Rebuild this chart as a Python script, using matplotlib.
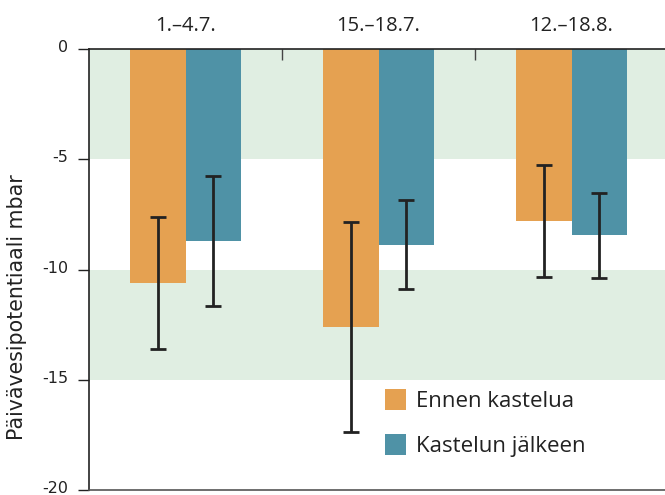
import matplotlib
matplotlib.use("Agg")
import matplotlib.pyplot as plt
from matplotlib.patches import Patch
import matplotlib.transforms as mtransforms
import numpy as np

plt.rcParams["axes.unicode_minus"] = False

periods = ["1.\u20134.7.", "15.\u201318.7.", "12.\u201318.8."]
before_mean = [10.62, 12.6, 7.8]
before_err = [3.0, 4.75, 2.52]
after_mean = [8.71, 8.88, 8.44]
after_err = [2.95, 2.02, 1.93]
series_names = ["Ennen kastelua", "Kastelun j\u00e4lkeen"]
yticks = [0, -5, -10, -15, -20]

orange = "#E5A151"
teal = "#4F92A6"
band = "#E0EEE2"
ink = "#222222"

fig = plt.figure(figsize=(6.65, 4.95), dpi=100)
ax = fig.add_axes([89 / 665, 5 / 495, 579 / 665, 441 / 495])

x = np.arange(len(periods))
w = 0.29

ax.axhspan(-5, 0, color=band, lw=0, zorder=0)
ax.axhspan(-15, -10, color=band, lw=0, zorder=0)

err_kw = dict(ecolor=ink, elinewidth=2.0, capsize=5.5, capthick=2.0)
ax.bar(x - w / 2, -np.array(before_mean), w, color=orange,
       yerr=before_err, error_kw=err_kw, zorder=2, label=series_names[0])
ax.bar(x + w / 2, -np.array(after_mean), w, color=teal,
       yerr=after_err, error_kw=err_kw, zorder=2, label=series_names[1])

ax.set_xlim(-0.5, 2.5)
ax.set_ylim(-20, 0)
ax.set_yticks(yticks)
ax.set_yticklabels([str(t) for t in yticks], fontsize=11.5, color=ink,
                   family="DejaVu Sans")
ax.tick_params(axis="y", direction="out", length=8, width=1, color=ink, pad=7)
lift = mtransforms.ScaledTranslation(0, 2 / 72, fig.dpi_scale_trans)
for lbl in ax.get_yticklabels():
    lbl.set_transform(lbl.get_transform() + lift)

# category separators on the top spine, labels above
ax.xaxis.tick_top()
ax.set_xticks(x + 0.5, minor=False)
ax.set_xticklabels([])
ax.tick_params(axis="x", direction="in", length=8, width=1, color="#444444")
for xi, name in zip(x, periods):
    ax.text(xi, 1.041, name, transform=ax.get_xaxis_transform(),
            ha="center", va="baseline", fontsize=14.5, color=ink,
            family="Open Sans")

ax.spines["right"].set_visible(False)
ax.spines["left"].set_color(ink)
ax.spines["top"].set_color(ink)
ax.spines["bottom"].set_color("#555555")
for s in ("left", "top", "bottom"):
    ax.spines[s].set_linewidth(1.2)

fig.text(17 / 665, 1 - 307 / 495, "P\u00e4iv\u00e4vesipotentiaali mbar",
         rotation=90, ha="center", va="center", fontsize=14.8, color=ink,
         family="DejaVu Sans")

handles = [Patch(facecolor=orange), Patch(facecolor=teal)]
leg = fig.legend(handles, series_names, loc="upper left",
                 bbox_to_anchor=(385 / 665, 1 - 389 / 495), frameon=False,
                 borderpad=0, borderaxespad=0,
                 prop={"family": "Open Sans", "size": 16},
                 handlelength=0.95, handleheight=1.08, handletextpad=0.45,
                 labelspacing=1.0, labelcolor=ink)

fig.savefig("out.png", dpi=100)
